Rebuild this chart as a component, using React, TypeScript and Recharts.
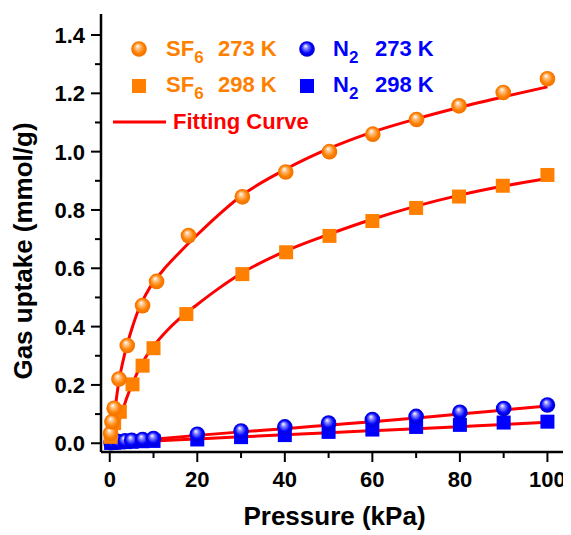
import { ComposedChart, Line, Scatter, XAxis, YAxis } from 'recharts';

// tick values
const pressureTicks = [0, 10, 20, 30, 40, 50, 60, 70, 80, 90, 100];
const uptakeTicks = [0, 0.1, 0.2, 0.3, 0.4, 0.5, 0.6, 0.7, 0.8, 0.9, 1.0, 1.1, 1.2, 1.3, 1.4];

// measured points (kPa, mmol/g)
const sf6P273 = [0.2, 0.5, 1.0, 2.1, 4.0, 7.5, 10.7, 18, 30.3, 40.2, 50.2, 60.1, 70.1, 79.8, 89.9, 100];
const sf6U273 = [0.034, 0.074, 0.12, 0.22, 0.335, 0.472, 0.555, 0.712, 0.845, 0.93, 1.0, 1.06, 1.11, 1.157, 1.203, 1.25];

const sf6P298 = [0.2, 1.0, 2.3, 5.2, 7.5, 10.0, 17.5, 30.3, 40.3, 50.2, 60.0, 70.0, 79.8, 89.8, 100];
const sf6U298 = [0.022, 0.069, 0.108, 0.202, 0.266, 0.326, 0.443, 0.58, 0.655, 0.711, 0.762, 0.807, 0.846, 0.883, 0.92];

const n2P273 = [0.3, 1, 2, 3.5, 5, 7.5, 10, 20, 30, 40, 50, 60, 70, 80, 90, 100];
const n2U273 = [0.002, 0.004, 0.006, 0.008, 0.01, 0.013, 0.016, 0.031, 0.042, 0.056, 0.069, 0.081, 0.092, 0.106, 0.119, 0.131];

const n2P298 = [0.3, 1, 2, 3.5, 5, 7.5, 10, 20, 30, 40, 50, 60, 70, 80, 90, 100];
const n2U298 = [0.001, 0.002, 0.003, 0.004, 0.005, 0.007, 0.008, 0.013, 0.021, 0.028, 0.039, 0.047, 0.056, 0.063, 0.071, 0.074];

// fitting curves
const fitP273 = [0, 0.5, 1, 1.5, 2, 3, 4, 5, 6.5, 9, 12, 16, 20, 25, 30, 40, 50, 60, 70, 80, 90, 100];
const fitU273 = [0, 0.03, 0.088, 0.15, 0.205, 0.28, 0.34, 0.39, 0.455, 0.53, 0.59, 0.655, 0.715, 0.785, 0.848, 0.938, 1.01, 1.067, 1.112, 1.152, 1.188, 1.222];

const fitP298 = [0, 1, 2, 3, 4, 5, 6.5, 8, 10, 13, 16, 20, 25, 30, 40, 50, 60, 70, 80, 90, 100];
const fitU298 = [0, 0.03, 0.07, 0.115, 0.16, 0.198, 0.248, 0.29, 0.333, 0.385, 0.428, 0.476, 0.532, 0.582, 0.658, 0.716, 0.768, 0.813, 0.851, 0.882, 0.908];

const fitPN2 = [0, 10, 20, 30, 40, 50, 60, 70, 80, 90, 100];
const fitUN2_273 = [0, 0.014, 0.027, 0.039, 0.05, 0.062, 0.074, 0.087, 0.1, 0.114, 0.128];
const fitUN2_298 = [0, 0.008, 0.015, 0.022, 0.029, 0.036, 0.043, 0.05, 0.057, 0.064, 0.072];

const toXY = (xs: number[], ys: number[]) => xs.map((x, i) => ({ x, y: ys[i] }));

const ORANGE = '#ff8000';
const BLUE = '#0000ff';
const RED = '#ff0000';
const FONT = '"Liberation Sans", Arial, sans-serif';

const tickText = { fontFamily: FONT, fontSize: 22, fontWeight: 700, fill: '#000' };

const Sphere = ({ cx, cy, color }: any) => (
    <circle cx={cx} cy={cy} r={7.8} fill={`url(#sphere-${color === ORANGE ? 'o' : 'b'})`} />
);

const Square = ({ cx, cy, color }: any) => (
    <rect x={cx - 7} y={cy - 7} width={14} height={14} fill={color} />
);

const BottomTick = ({ x, y, payload }: any) => {
    const major = payload.value % 20 === 0;
    return (
        <g>
            <line x1={x} y1={y} x2={x} y2={y + (major ? 10 : 6)} stroke="#000" strokeWidth={2} />
            {major && (
                <text x={x} y={y + 35} textAnchor="middle" style={tickText}>{payload.value}</text>
            )}
        </g>
    );
};

const LeftTick = ({ x, y, payload }: any) => {
    const major = Math.round(payload.value * 10) % 2 === 0;
    return (
        <g>
            <line x1={x} y1={y} x2={x - (major ? 10 : 6)} y2={y} stroke="#000" strokeWidth={2} />
            {major && (
                <text x={x - 16} y={y + 8} textAnchor="end" style={tickText}>{payload.value.toFixed(1)}</text>
            )}
        </g>
    );
};

const TopTick = ({ x, y, payload }: any) => {
    const major = payload.value % 20 === 0;
    return <line x1={x} y1={y} x2={x} y2={y + (major ? 6 : 4)} stroke="#000" strokeWidth={2} />;
};

const RightTick = ({ x, y, payload }: any) => {
    const major = Math.round(payload.value * 10) % 2 === 0;
    return <line x1={x} y1={y} x2={x - (major ? 6 : 4)} y2={y} stroke="#000" strokeWidth={2} />;
};

const XTitle = ({ viewBox }: any) => (
    <text x={viewBox.x + viewBox.width / 2} y={viewBox.y + 73} textAnchor="middle"
        style={{ fontFamily: FONT, fontSize: 26, fontWeight: 700, fill: '#000' }}>
        Pressure (kPa)
    </text>
);

const YTitle = ({ viewBox }: any) => {
    const cx = viewBox.x + 24;
    const cy = viewBox.y + viewBox.height / 2 + 18;
    return (
        <text x={cx} y={cy} transform={`rotate(-90, ${cx}, ${cy})`} textAnchor="middle"
            style={{ fontFamily: FONT, fontSize: 26, fontWeight: 700, fill: '#000' }}>
            Gas uptake (mmol/g)
        </text>
    );
};

const legendText = { fontFamily: FONT, fontSize: 22, fontWeight: 700 };

const LegendOverlay = () => (
    <svg width={563} height={527} style={{ position: 'absolute', left: 0, top: 0, pointerEvents: 'none' }}>
        <defs>
            <radialGradient id="sphere-o" cx="50%" cy="50%" r="50%" fx="40%" fy="30%">
                <stop offset="0%" stopColor="#ffffff" />
                <stop offset="30%" stopColor="#ffc080" />
                <stop offset="70%" stopColor={ORANGE} />
                <stop offset="100%" stopColor="#f07000" />
            </radialGradient>
            <radialGradient id="sphere-b" cx="50%" cy="50%" r="50%" fx="40%" fy="30%">
                <stop offset="0%" stopColor="#ffffff" />
                <stop offset="30%" stopColor="#8080ff" />
                <stop offset="70%" stopColor={BLUE} />
                <stop offset="100%" stopColor="#0000d0" />
            </radialGradient>
        </defs>
        <Sphere cx={131} cy={41} color={ORANGE} />
        <text x={158} y={48} fill={ORANGE} style={legendText}>
            SF<tspan fontSize={17} dy={7}>6</tspan><tspan dy={-7} x={210}>273 K</tspan>
        </text>
        <Sphere cx={299} cy={41} color={BLUE} />
        <text x={325} y={48} fill={BLUE} style={legendText}>
            N<tspan fontSize={17} dy={7}>2</tspan><tspan dy={-7} x={367}>273 K</tspan>
        </text>

        <Square cx={131} cy={78} color={ORANGE} />
        <text x={158} y={84} fill={ORANGE} style={legendText}>
            SF<tspan fontSize={17} dy={7}>6</tspan><tspan dy={-7} x={210}>298 K</tspan>
        </text>
        <Square cx={299} cy={78} color={BLUE} />
        <text x={325} y={84} fill={BLUE} style={legendText}>
            N<tspan fontSize={17} dy={7}>2</tspan><tspan dy={-7} x={367}>298 K</tspan>
        </text>

        <line x1={105} y1={114} x2={158} y2={114} stroke={RED} strokeWidth={3} />
        <text x={165} y={121} fill={RED} style={legendText}>Fitting Curve</text>
    </svg>
);

const axisLine = { stroke: '#000', strokeWidth: 2.5 };

const App = () => {
    return (
        <div style={{ position: 'relative', width: 563, height: 527 }}>
            <ComposedChart width={563} height={527} margin={{ top: 6, right: 3, bottom: 0, left: 0 }}>
                <XAxis dataKey="x" type="number" domain={[-2, 104.7]} allowDataOverflow
                    ticks={pressureTicks} interval={0} tickSize={0} tickMargin={0} tickLine={false}
                    axisLine={axisLine} tick={<BottomTick />} height={83} label={<XTitle />} />
                <XAxis xAxisId="top" orientation="top" type="number" domain={[-2, 104.7]} allowDataOverflow
                    ticks={pressureTicks} interval={0} tickSize={0} tickMargin={0} tickLine={false}
                    axisLine={axisLine} tick={<TopTick />} height={0} />
                <YAxis dataKey="y" type="number" domain={[-0.03, 1.472]} allowDataOverflow
                    ticks={uptakeTicks} interval={0} tickSize={0} tickMargin={0} tickLine={false}
                    axisLine={axisLine} tick={<LeftTick />} width={93} label={<YTitle />} />
                <YAxis yAxisId="right" orientation="right" type="number" domain={[-0.03, 1.472]} allowDataOverflow
                    ticks={uptakeTicks} interval={0} tickSize={0} tickMargin={0} tickLine={false}
                    axisLine={axisLine} tick={<RightTick />} width={0} />

                <Scatter data={toXY(n2P298, n2U298)} shape={(p: any) => <Square {...p} color={BLUE} />} isAnimationActive={false} />
                <Scatter data={toXY(n2P273, n2U273)} shape={(p: any) => <Sphere {...p} color={BLUE} />} isAnimationActive={false} />
                <Scatter data={toXY(sf6P298, sf6U298)} shape={(p: any) => <Square {...p} color={ORANGE} />} isAnimationActive={false} />
                <Scatter data={toXY(sf6P273, sf6U273)} shape={(p: any) => <Sphere {...p} color={ORANGE} />} isAnimationActive={false} />

                <Line data={toXY(fitP273, fitU273)} dataKey="y" type="monotone" stroke={RED} strokeWidth={3} dot={false} isAnimationActive={false} />
                <Line data={toXY(fitP298, fitU298)} dataKey="y" type="monotone" stroke={RED} strokeWidth={3} dot={false} isAnimationActive={false} />
                <Line data={toXY(fitPN2, fitUN2_273)} dataKey="y" type="monotone" stroke={RED} strokeWidth={3} dot={false} isAnimationActive={false} />
                <Line data={toXY(fitPN2, fitUN2_298)} dataKey="y" type="monotone" stroke={RED} strokeWidth={3} dot={false} isAnimationActive={false} />
            </ComposedChart>
            <LegendOverlay />
        </div>
    );
};

export default App;
